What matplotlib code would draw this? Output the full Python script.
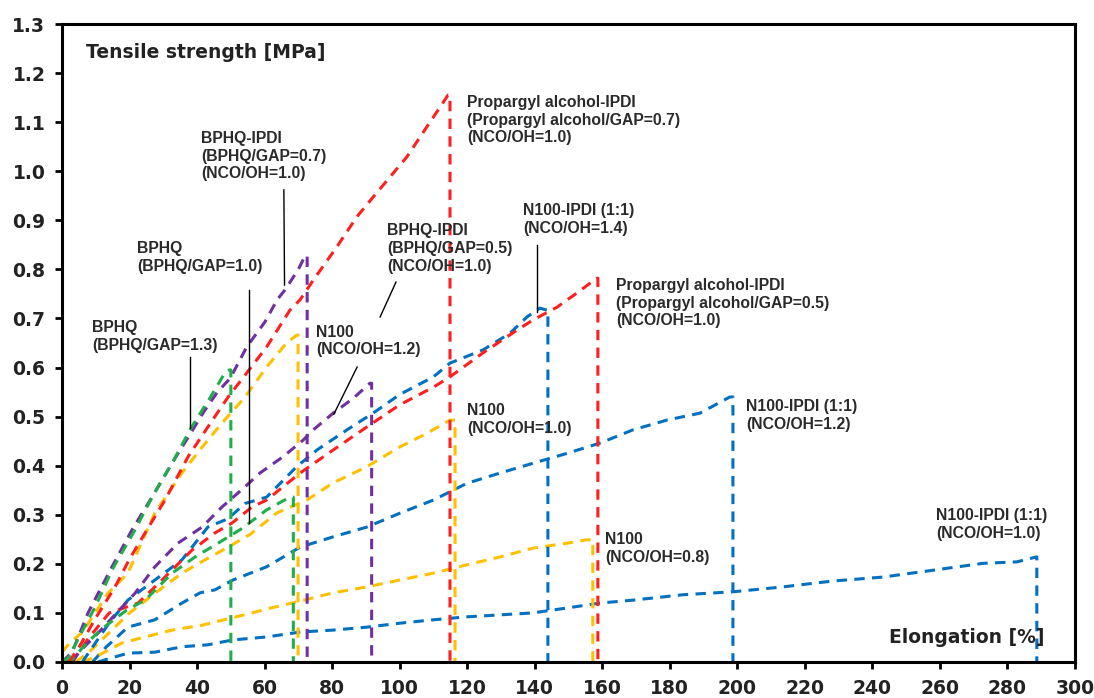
import matplotlib
matplotlib.use("Agg")
import matplotlib.pyplot as plt

BLUE = '#0070C0'
RED = '#FF1F1F'
YELLOW = '#FFC000'
GREEN = '#1FAE4B'
PURPLE = '#7030A0'

# ---------- data (elongation %, tensile strength MPa) ----------
# green, BPHQ (BPHQ/GAP=1.3)
bphq13_x = [0, 2, 5, 9.8, 15, 21.6, 27, 32.6, 37.9, 40.3, 44, 48.3, 49.5]
bphq13_y = [0, 0.01, 0.05, 0.112, 0.19, 0.269, 0.34, 0.405, 0.473, 0.5, 0.54, 0.59, 0.595]
bphq13_end = 50.0

# green, BPHQ (BPHQ/GAP=1.0)
bphq10_x = [1, 3, 6.3, 11.3, 19.2, 24.6, 32.6, 39.4, 46.2, 53.3, 60.6, 67.5]
bphq10_y = [0, 0.005, 0.031, 0.065, 0.106, 0.126, 0.181, 0.214, 0.242, 0.272, 0.31, 0.336]
bphq10_end = 68.5

# purple, BPHQ-IPDI (BPHQ/GAP=0.7)
bphqipdi07_x = [0, 3, 7.7, 14.8, 20.7, 27, 33, 38, 42, 46, 49.8, 54.7, 60.1, 63.7, 66, 70, 72]
bphqipdi07_y = [0, 0.02, 0.1, 0.194, 0.269, 0.34, 0.41, 0.465, 0.51, 0.55, 0.578, 0.642, 0.693,
                0.738, 0.758, 0.80, 0.828]
bphqipdi07_end = 72.6

# yellow, BPHQ-IPDI (BPHQ/GAP=0.5)
bphqipdi05_x = [0, 2.4, 6, 9.8, 13.6, 19.5, 27.5, 35.5, 41.5, 47.4, 54.2, 60.6, 66.5, 69.5]
bphqipdi05_y = [0.02, 0.04, 0.06, 0.1, 0.14, 0.181, 0.304, 0.385, 0.438, 0.487, 0.54, 0.601,
                0.65, 0.666]
bphqipdi05_end = 69.9

# red, Propargyl alcohol-IPDI (Propargyl alcohol/GAP=0.7)
prop07_x = [2, 5, 10, 15.7, 20, 24.6, 30.5, 37.3, 43.2, 49.2, 54.7, 60.6, 67.5, 70.5, 74.4, 81.4,
            87.3, 92.1, 97.1, 102.1, 108, 112, 114.3]
prop07_y = [0, 0.03, 0.09, 0.153, 0.21, 0.263, 0.33, 0.418, 0.479, 0.54, 0.589, 0.642, 0.717,
            0.738, 0.778, 0.846, 0.907, 0.947, 0.988, 1.029, 1.09, 1.131, 1.155]
prop07_end = 114.9

# red, Propargyl alcohol-IPDI (Propargyl alcohol/GAP=0.5)
prop05_x = [3, 8, 14, 22.5, 29.6, 38.5, 45.3, 50.3, 56.3, 60.6, 70.5, 80.3, 90.3, 100, 110, 114.9,
            124.7, 134.7, 139.5, 146.6, 152.5, 158.4]
prop05_y = [0, 0.05, 0.1, 0.12, 0.167, 0.228, 0.263, 0.283, 0.316, 0.33, 0.385, 0.432, 0.479,
            0.524, 0.56, 0.581, 0.63, 0.676, 0.697, 0.723, 0.752, 0.782]
prop05_end = 158.7

# purple, N100 (NCO/OH=1.2)
n100_12_x = [3, 5, 10.7, 17.8, 21.6, 27.5, 34.3, 41.5, 47.4, 54.2, 58.6, 65.4, 71.4, 74.4, 80.3,
             86.2, 91.2]
n100_12_y = [0, 0.02, 0.059, 0.112, 0.14, 0.194, 0.242, 0.275, 0.316, 0.357, 0.385, 0.418, 0.452,
             0.473, 0.507, 0.537, 0.568]
n100_12_end = 91.7

# yellow, N100 (NCO/OH=1.0)
n100_10_x = [4, 8, 14, 20, 27.5, 35.5, 42.3, 49.2, 55.7, 63.7, 72.5, 80.3, 90.3, 100, 108.1, 114.9]
n100_10_y = [0, 0.02, 0.06, 0.1, 0.14, 0.181, 0.208, 0.234, 0.26, 0.304, 0.33, 0.365, 0.398,
             0.438, 0.466, 0.493]
n100_10_end = 116.4

# yellow, N100 (NCO/OH=0.8)
n100_08_x = [6, 9.8, 17.8, 24.6, 32.6, 41.5, 49.2, 56.3, 60.6, 70.5, 80.3, 90.3, 100, 110, 119.9,
             129.7, 139.5, 149.5, 155.5]
n100_08_y = [0, 0.01, 0.039, 0.051, 0.065, 0.075, 0.088, 0.1, 0.108, 0.124, 0.141, 0.153, 0.167,
             0.181, 0.198, 0.214, 0.232, 0.242, 0.249]
n100_08_end = 157.2

# blue, N100-IPDI (1:1) (NCO/OH=1.4)
n100ipdi14_x = [6, 10, 14, 19.5, 27.5, 35.5, 43.2, 49.2, 54.2, 60.6, 69.5, 75.5, 84.4, 92.1, 100,
                110, 114.9, 124.7, 132.7, 137.7, 141.5, 143.6]
n100ipdi14_y = [0, 0.04, 0.08, 0.126, 0.167, 0.208, 0.275, 0.292, 0.323, 0.336, 0.398, 0.432,
                0.473, 0.507, 0.545, 0.581, 0.609, 0.636, 0.67, 0.703, 0.721, 0.717]
n100ipdi14_end = 143.9

# blue, N100-IPDI (1:1) (NCO/OH=1.2)
n100ipdi12_x = [9, 13, 19.5, 27.5, 35.5, 40.9, 45.3, 50.6, 60.6, 70.5, 80.3, 90.3, 100, 110,
                119.9, 129.7, 139.5, 149.5, 159.3, 169.1, 179.2, 188.9, 197.8]
n100ipdi12_y = [0, 0.03, 0.071, 0.086, 0.12, 0.141, 0.147, 0.167, 0.194, 0.234, 0.255, 0.275,
                0.303, 0.33, 0.364, 0.385, 0.405, 0.425, 0.446, 0.473, 0.493, 0.507, 0.54]
n100ipdi12_end = 198.7

# blue, N100-IPDI (1:1) (NCO/OH=1.0)
n100ipdi10_x = [10.6, 19.5, 27.5, 35.5, 43.2, 50.6, 60.6, 70.5, 80.3, 90.3, 100, 110, 119.9,
                129.7, 139.5, 149.5, 159.3, 169.1, 183.9, 198.7, 213.5, 228.3, 243.1, 258,
                272.7, 282.8, 288.5]
n100ipdi10_y = [0, 0.018, 0.02, 0.031, 0.035, 0.045, 0.051, 0.061, 0.065, 0.071, 0.079, 0.086,
                0.092, 0.096, 0.1, 0.11, 0.12, 0.126, 0.137, 0.143, 0.153, 0.165, 0.173, 0.187,
                0.201, 0.204, 0.214]
n100ipdi10_end = 288.7

series = [
    (n100ipdi10_x, n100ipdi10_y, n100ipdi10_end, BLUE),
    (n100ipdi12_x, n100ipdi12_y, n100ipdi12_end, BLUE),
    (n100_08_x, n100_08_y, n100_08_end, YELLOW),
    (n100_10_x, n100_10_y, n100_10_end, YELLOW),
    (n100ipdi14_x, n100ipdi14_y, n100ipdi14_end, BLUE),
    (prop05_x, prop05_y, prop05_end, RED),
    (n100_12_x, n100_12_y, n100_12_end, PURPLE),
    (bphq10_x, bphq10_y, bphq10_end, GREEN),
    (bphqipdi05_x, bphqipdi05_y, bphqipdi05_end, YELLOW),
    (prop07_x, prop07_y, prop07_end, RED),
    (bphqipdi07_x, bphqipdi07_y, bphqipdi07_end, PURPLE),
    (bphq13_x, bphq13_y, bphq13_end, GREEN),
]

# labels: (text, x, y of first line top)
labels = [
    ('Propargyl alcohol-IPDI\n(Propargyl alcohol/GAP=0.7)\n(NCO/OH=1.0)', 119.9, 1.155),
    ('N100-IPDI (1:1)\n(NCO/OH=1.4)', 136.5, 0.935),
    ('BPHQ-IPDI\n(BPHQ/GAP=0.5)\n(NCO/OH=1.0)', 96.2, 0.894),
    ('Propargyl alcohol-IPDI\n(Propargyl alcohol/GAP=0.5)\n(NCO/OH=1.0)', 164.0, 0.782),
    ('BPHQ-IPDI\n(BPHQ/GAP=0.7)\n(NCO/OH=1.0)', 41.2, 1.082),
    ('BPHQ\n(BPHQ/GAP=1.0)', 22.2, 0.858),
    ('BPHQ\n(BPHQ/GAP=1.3)', 8.9, 0.697),
    ('N100\n(NCO/OH=1.2)', 75.2, 0.687),
    ('N100\n(NCO/OH=1.0)', 119.9, 0.528),
    ('N100\n(NCO/OH=0.8)', 160.8, 0.265),
    ('N100-IPDI (1:1)\n(NCO/OH=1.2)', 202.5, 0.536),
    ('N100-IPDI (1:1)\n(NCO/OH=1.0)', 258.8, 0.314),
]

# leader lines: (x0, y0) -> (x1, y1)
leaders = [
    (37.9, 0.621, 37.9, 0.477),
    (55.4, 0.758, 55.4, 0.283),
    (65.7, 0.962, 65.9, 0.768),
    (98.9, 0.774, 94.2, 0.703),
    (140.7, 0.85, 140.7, 0.713),
    (87.4, 0.601, 80.5, 0.505),
]

fig = plt.figure(figsize=(10.94, 6.98), dpi=100)
ax = fig.add_axes([0.0567, 0.0516, 0.9259, 0.914])

for xs, ys, end, col in series:
    px = xs + [end, end]
    py = ys + [ys[-1], 0]
    ax.plot(px, py, color=col, lw=2.2, dashes=(3.4, 2.4), solid_capstyle='butt')

for x0, y0, x1, y1 in leaders:
    ax.plot([x0, x1], [y0, y1], color='black', lw=1.0)

for txt, tx, ty in labels:
    ax.text(tx, ty, txt, family='Liberation Sans', fontsize=11.3, fontweight='bold',
            color='#2a2a2a', ha='left', va='top', linespacing=1.22)

ax.text(7.1, 1.261, 'Tensile strength [MPa]', fontsize=13.5, fontweight='bold',
        color='#222222', ha='left', va='top')
ax.text(291.1, 0.0387, 'Elongation [%]', fontsize=13.5, fontweight='bold',
        color='#222222', ha='right', va='baseline')

ax.set_xlim(0, 300)
ax.set_ylim(0, 1.3)
ax.set_xticks(range(0, 301, 20))
ax.set_yticks([i / 10 for i in range(14)])
ax.set_yticklabels(['%.1f' % (i / 10) for i in range(14)])
for s in ax.spines.values():
    s.set_linewidth(2.2)
ax.tick_params(direction='out', length=5, width=2, labelsize=13.5, pad=7)
for lab in ax.get_xticklabels() + ax.get_yticklabels():
    lab.set_fontweight('bold')
    lab.set_color('#222222')

fig.savefig('out.png', dpi=100)
